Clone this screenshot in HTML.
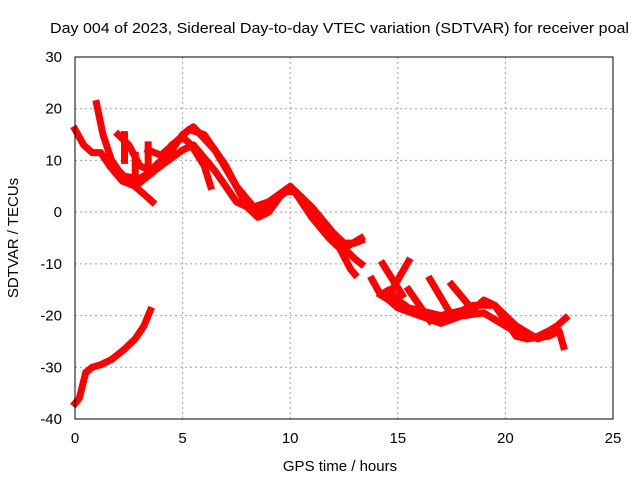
<!DOCTYPE html>
<html><head><meta charset="utf-8"><style>
body{margin:0;background:#fff}
svg{display:block;font-family:"Liberation Sans",sans-serif}
</style></head><body>
<svg width="640" height="480">
<g id="grid"></g>
<g id="marks"></g>
<rect x="75" y="57" width="538" height="362" fill="none" stroke="#000"/>
<g id="ticks"></g>
<text x="50" y="33" font-size="15" textLength="579" lengthAdjust="spacingAndGlyphs">Day 004 of 2023, Sidereal Day-to-day VTEC variation (SDTVAR) for receiver poal</text>
<text x="340" y="471" text-anchor="middle" font-size="15">GPS time / hours</text>
<text transform="translate(18,238) rotate(-90)" text-anchor="middle" font-size="15">SDTVAR / TECUs</text>
</svg>
<script>
const xTicks=[0,5,10,15,20,25];
const yTicks=[30,20,10,0,-10,-20,-30,-40];
const trackA=[[1.0,21],[1.3,15],[1.7,10],[2.2,7],[3,6.5],[4,9],[5,12],[5.5,13],[6.5,8],[7.5,2],[8.5,0],[9.5,3],[10,4.5],[10.5,3],[11,0],[12,-5],[13,-9],[13.3,-10]];
const trackB=[[0,16],[0.4,13],[0.8,11.5],[1.2,11.5],[1.6,9],[2.2,6],[2.8,5],[3.4,7],[4,9],[5,15],[5.5,16.5],[6.5,12],[7.5,5],[8.3,1],[9,2],[10,5],[11,1],[12,-4],[12.5,-6],[13,-6],[13.3,-5.5]];
const trackC=[[2,15],[2.5,13],[3,9],[3.5,8],[4,10],[4.5,13],[5,14.5],[5.4,13],[6,9],[6.3,5]];
const trackD=[[3.4,12],[4,11],[4.8,14],[5.3,16],[6,15],[7,9],[8,1],[8.5,-1],[9,0],[9.7,4],[10.2,4],[11,-1],[11.8,-5],[12.3,-7],[12.8,-11],[13,-12]];
const trackE=[[1.8,9],[2.5,6],[3.2,3.5],[3.6,2]];
const trackF=[[0,-37],[0.2,-36],[0.5,-31],[0.8,-30],[1.2,-29.5],[1.7,-28.5],[2.3,-26.5],[2.8,-24.5],[3.2,-22],[3.5,-19]];
const trackG=[[13.8,-13],[14.2,-16],[14.6,-15],[15,-17],[15.5,-18.5],[16,-19],[17,-20],[18,-19],[18.5,-18],[19.5,-18],[20,-21],[20.5,-24],[21,-24.5],[21.5,-24],[22,-23],[22.4,-22],[22.8,-20.5]];
const trackH=[[14.3,-16],[15,-18.5],[16,-20],[17,-21.5],[18,-20],[19,-19.5],[20,-22],[21,-24.5],[22,-24],[22.5,-23],[22.7,-26]];
const trackI=[[14.2,-16],[14.6,-17],[15.5,-19],[16.5,-20.5],[17.5,-20],[18.2,-20],[19,-17],[19.5,-18],[20.5,-22],[21.5,-24.5],[22.4,-23]];
const spikes=[[[2.3,15],[2.3,10]],[[3.4,13],[3.4,8]],[[2.8,11],[2.8,6]],[[14.3,-10],[15.2,-16]],[[15.5,-9.5],[14.6,-16]],[[16.5,-13],[17.5,-20]],[[17.5,-14],[18.5,-19]],[[15.5,-15],[16.5,-21]],[[12.5,-7],[13.3,-5]]];
const tracks=[trackA,trackB,trackC,trackD,trackE,trackF,trackG,trackH,trackI].concat(spikes);
const NS="http://www.w3.org/2000/svg";
const X=h=>75+h*538/25, Y=v=>57+(30-v)*362/70;
const grid=document.getElementById('grid'),ticks=document.getElementById('ticks'),marks=document.getElementById('marks');
xTicks.forEach(t=>{
 if(t>0&&t<25){const l=document.createElementNS(NS,'line');
 
 
 l.setAttribute('x1',X(t));l.setAttribute('x2',X(t));l.setAttribute('y1',57);l.setAttribute('y2',419);
 l.setAttribute('stroke','#a0a0a0');l.setAttribute('stroke-dasharray','2,3');grid.appendChild(l);}
 const tx=document.createElementNS(NS,'text');
 
 
 tx.setAttribute('x',X(t));tx.setAttribute('y',443);tx.setAttribute('text-anchor','middle');tx.setAttribute('font-size','15');
 tx.textContent=t;ticks.appendChild(tx);
});
yTicks.forEach(t=>{
 if(t<30&&t>-40){const l=document.createElementNS(NS,'line');
 
 
 l.setAttribute('x1',75);l.setAttribute('x2',613);l.setAttribute('y1',Y(t));l.setAttribute('y2',Y(t));
 l.setAttribute('stroke','#a0a0a0');l.setAttribute('stroke-dasharray','2,3');grid.appendChild(l);}
 const tx=document.createElementNS(NS,'text');
 
 
 tx.setAttribute('x',62);tx.setAttribute('y',Y(t)+5);tx.setAttribute('text-anchor','end');tx.setAttribute('font-size','15');
 tx.textContent=t;ticks.appendChild(tx);
});
tracks.forEach(tr=>{
 const p=document.createElementNS(NS,'polyline');
 
 
 p.setAttribute('points',tr.map(d=>X(d[0])+','+Y(d[1])).join(' '));
 p.setAttribute('fill','none');p.setAttribute('stroke','#ff0000');p.setAttribute('stroke-width','7');
 p.setAttribute('stroke-linejoin','round');p.setAttribute('stroke-linecap','square');
 marks.appendChild(p);
});
</script>
</body></html>
